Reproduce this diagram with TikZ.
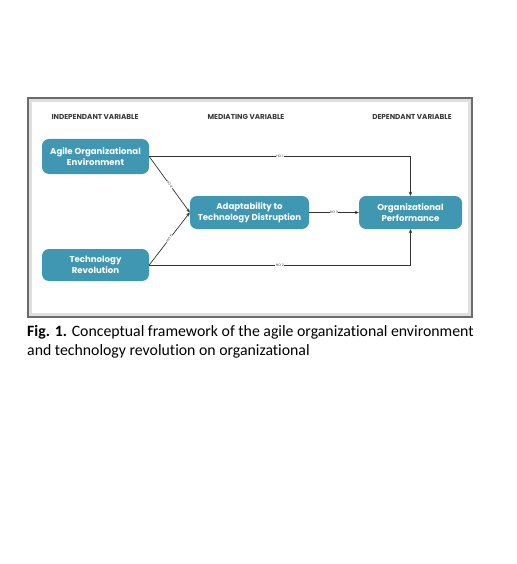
\documentclass[tikz,border=0pt]{standalone}
\usepackage{fontspec}
\setmainfont{Carlito}[Ligatures=NoCommon]
\newfontfamily\boxfont{Poppins}
\usetikzlibrary{arrows.meta}
\definecolor{tealbox}{HTML}{3F97B1}
\definecolor{hdr}{HTML}{3A3A3A}
\definecolor{linec}{HTML}{333333}
\tikzset{
  varbox/.style={rounded corners=7pt, fill=tealbox, text=white, align=center,
    font=\boxfont\bfseries\fontsize{8.6}{11}\selectfont, inner sep=0pt},
  header/.style={text=hdr, font=\boxfont\bfseries\fontsize{7.2}{8}\selectfont, inner sep=0pt},
  conn/.style={draw=linec, line width=0.7pt},
  arr/.style={conn, -{Stealth[length=4pt,width=3.5pt]}},
  holab/.style={fill=white, inner sep=0.5pt, text=linec, font=\boxfont\fontsize{3.4}{4}\selectfont},
}
\begin{document}
\begin{tikzpicture}[x=1pt,y=-1pt]
\useasboundingbox[fill=white] (0,0) rectangle (516,564);
% frame
\draw[draw=gray!25, line width=2.5pt] (30.5,100.5) rectangle (469.5,314.5);
\draw[draw=gray!85!black, line width=1.2pt] (28,98) rectangle (472,317);
% headers
\node[header] (h1) at (95,117) {INDEPENDANT VARIABLE};
\node[header] (h2) at (246,117) {MEDIATING VARIABLE};
\node[header] (h3) at (412,117) {DEPENDANT VARIABLE};
% boxes
\node[varbox, minimum width=107pt, minimum height=35pt] (agile) at (95.5,156.5) {Agile Organizational\\Environment};
\node[varbox, minimum width=107pt, minimum height=32pt] (tech) at (95.5,265) {Technology\\Revolution};
\node[varbox, minimum width=119pt, minimum height=33pt] (adapt) at (249.5,212.5) {Adaptability to\\Technology Distruption};
\node[varbox, minimum width=103pt, minimum height=33pt] (perf) at (410.5,212.5) {Organizational\\Performance};
% connectors
\draw[arr] (agile.east) -| node[holab, pos=0.25] {HO 1} (perf.north);
\draw[arr] (tech.east) -| node[holab, pos=0.25] {HO 2} (perf.south);
\draw[arr] (adapt.east) -- node[holab] {HO 3} (perf.west);
\draw[arr] (agile.east) -- node[holab, sloped] {HO 4} (adapt.west);
\draw[arr] (tech.east) -- node[holab, sloped] {HO 5} (adapt.west);
% caption
\node[anchor=north west, align=left, inner sep=0pt, font=\fontsize{15.8}{19}\selectfont] (cap) at (27,325)
  {\textbf{Fig. 1.} Conceptual framework of the agile organizational environment\\and technology revolution on organizational};
\end{tikzpicture}
\end{document}
